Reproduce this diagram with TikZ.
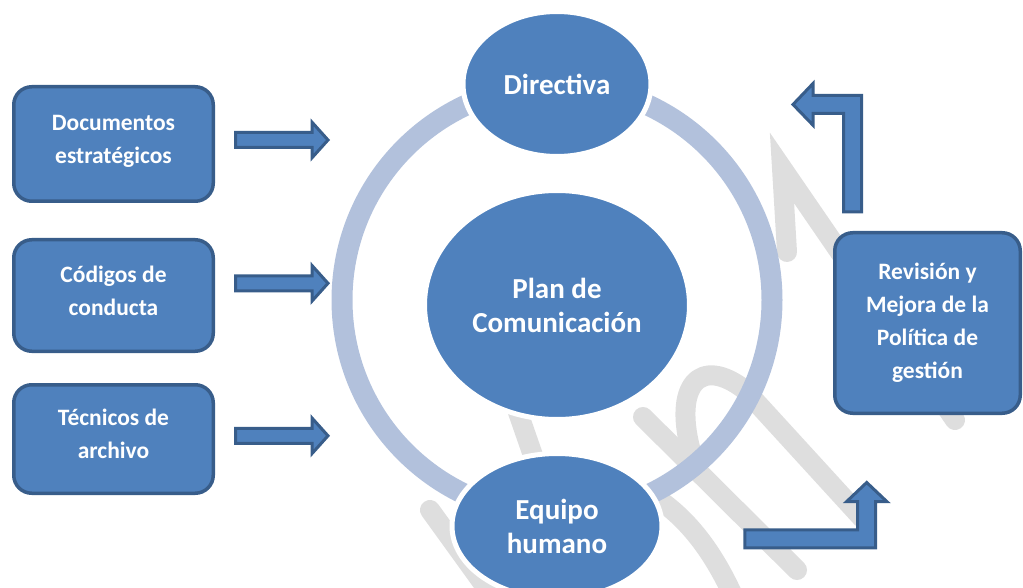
\documentclass[tikz,border=0pt]{standalone}
\usepackage{fontspec}
\setmainfont{Carlito}
\usetikzlibrary{positioning,calc,shapes.geometric}
\definecolor{fillblue}{RGB}{79,129,189}
\definecolor{edgeblue}{RGB}{56,93,138}
\definecolor{ringblue}{RGB}{178,193,220}
\definecolor{markgray}{RGB}{222,222,222}
\tikzset{
	box/.style={rectangle, rounded corners=18pt, draw=edgeblue, fill=fillblue, line width=3.5pt, minimum width=199.5pt, align=center, text=white, inner sep=0pt, font=\fontsize{23.5}{33}\selectfont\bfseries},
	blob/.style={ellipse, draw=white, fill=fillblue, line width=5pt, align=center, text=white, inner sep=0pt, font=\fontsize{29}{34}\selectfont\bfseries},
	blockarrow/.style={draw=edgeblue, fill=fillblue, line width=3pt},
	ring/.style={draw=ringblue, line width=21pt},
	watermark/.style={draw=markgray, line width=20pt, line cap=round}
}

\begin{document}
\begin{tikzpicture}[x=1pt,y=-1pt]
	\useasboundingbox (0,0) rectangle (1023,588);
	\clip (0,0) rectangle (1023,588);

	% faint watermark behind everything
	\draw[watermark] (430,510) -- (495,600);
	\draw[watermark] (512,395) -- (545,490);
	\draw[watermark] (643,417) -- (797,570);
	\draw[watermark] (692,455) .. controls (672,385) and (700,355) .. (745,390) -- (862,518);
	\draw[watermark] (655,497) .. controls (690,520) and (715,555) .. (735,600);
	\draw[watermark] (787,252) -- (782,168) -- (955,420);

	% ring
	\draw[ring] (557,300) circle[radius=215];

	% plain node definitions
	\node[blob, minimum width=188pt, minimum height=145pt] (directiva) at (557,84) {Directiva};
	\node[blob, minimum width=265pt, minimum height=229pt] (plan) at (557,305) {Plan de\\Comunicación};
	\node[blob, minimum width=210pt, minimum height=145pt] (equipo) at (557,526) {Equipo\\humano};

	\node[box, text depth=10pt, minimum height=114.5pt] (documentos) at (113.5,144) {Documentos\\estratégicos};
	\node[box, text depth=10pt, minimum height=111.5pt] (codigos) at (113.5,295.5) {Códigos de\\conducta};
	\node[box, text depth=10pt, minimum height=108.5pt] (tecnicos) at (113.5,439) {Técnicos de\\archivo};
	\node[box, minimum width=185.5pt, minimum height=180.5pt] (revision) at (927.5,323) {Revisión y\\Mejora de la\\Política de\\gestión};

	% arrows
	\foreach \y in {140,283.3,435.8}
		\draw[blockarrow] (235.5,\y-7.5) -- (312,\y-7.5) -- (312,\y-17.8) -- (328,\y) -- (312,\y+17.8) -- (312,\y+7.5) -- (235.5,\y+7.5) -- cycle;
	\draw[blockarrow] (843.5,211.8) -- (843.5,113.5) -- (813,113.5) -- (813,125.2) -- (793,104.5) -- (813,83.5) -- (813,95.5) -- (861.5,95.5) -- (861.5,211.8) -- cycle;
	\draw[blockarrow] (744.8,529.8) -- (857.7,529.8) -- (857.7,501.7) -- (846.5,501.7) -- (866.7,482.5) -- (887,501.7) -- (875.7,501.7) -- (875.7,547.8) -- (744.8,547.8) -- cycle;
\end{tikzpicture}
\end{document}
